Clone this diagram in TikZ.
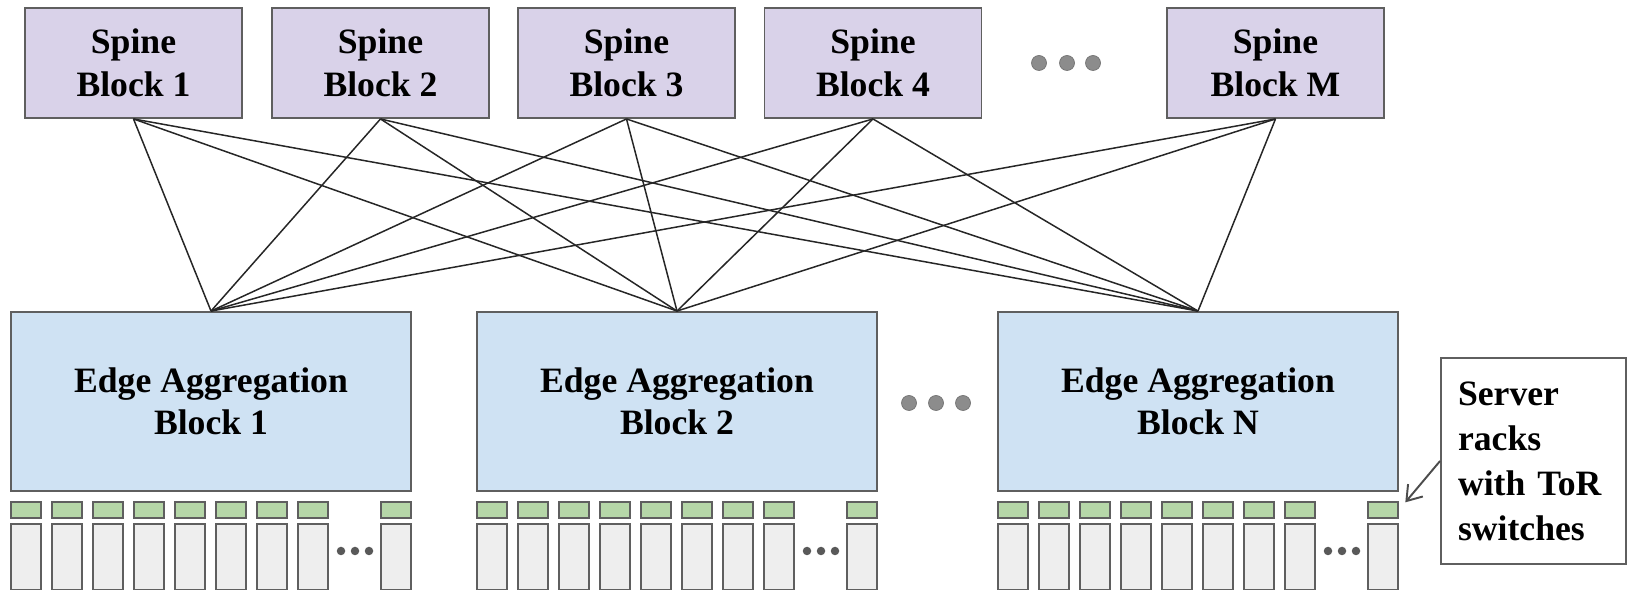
\documentclass[tikz,border=0pt]{standalone}
\usepackage{fontspec}
\setmainfont{Liberation Serif}
\usetikzlibrary{arrows.meta, positioning}
\definecolor{spinefill}{HTML}{D9D2E9}
\definecolor{edgefill}{HTML}{CFE2F3}
\definecolor{torfill}{HTML}{B6D7A8}
\definecolor{rackfill}{HTML}{EEEEEE}
\definecolor{boxline}{HTML}{5F5F5F}
\definecolor{dotfill}{HTML}{8C8C8C}
\tikzset{
    spine/.style={rectangle,draw=boxline,fill=spinefill,line width=1.1pt,
        minimum width=4.34cm,minimum height=2.2cm,align=center,
        font=\fontsize{20.3}{24.2}\selectfont\bfseries},
    edgeblock/.style={rectangle,draw=boxline,fill=edgefill,line width=1.1pt,
        minimum width=8cm,minimum height=3.58cm,align=center,
        font=\fontsize{20.3}{24.2}\selectfont\bfseries},
    tor/.style={rectangle,draw=boxline,fill=torfill,line width=1pt,inner sep=0pt,
        minimum width=0.6cm,minimum height=0.32cm},
    rack/.style={rectangle,draw=boxline,fill=rackfill,line width=1pt,inner sep=0pt,
        minimum width=0.6cm,minimum height=1.32cm},
    bigdot/.style={circle,draw=gray!90!black,fill=dotfill,inner sep=0pt,minimum size=0.3cm},
    smalldot/.style={circle,fill=black!65,inner sep=0pt,minimum size=0.17cm},
    note/.style={rectangle,draw=boxline,line width=1.1pt,align=left,
        minimum width=3.7cm,minimum height=4.12cm,text width=3.02cm,inner xsep=0.34cm,
        font=\fontsize{20.3}{25.6}\selectfont\bfseries},
    link/.style={draw=black!85,line width=0.85pt},
    pointer/.style={draw=black!70,line width=1.1pt,-{Straight Barb[length=8pt,width=11pt]},
        shorten >=0.2cm}}

\begin{document}
\begin{tikzpicture}
[x=0.02cm,y=-0.02cm]
\useasboundingbox (0,0) rectangle (1630,590);

% spine layer
\node[spine] (s1) at (133.5,63) {Spine\\Block 1};
\node[spine] (s2) at (380.5,63) {Spine\\Block 2};
\node[spine] (s3) at (626.5,63) {Spine\\Block 3};
\node[spine] (s4) at (873,63) {Spine\\Block 4};
\node[spine] (sM) at (1275.5,63) {Spine\\Block M};
\node[bigdot] (sd1) at (1039,63) {};
\node[bigdot] (sd2) at (1067,63) {};
\node[bigdot] (sd3) at (1093,63) {};

% edge aggregation layer
\node[edgeblock] (e1) at (211,401.5) {Edge Aggregation\\Block 1};
\node[edgeblock] (e2) at (677,401.5) {Edge Aggregation\\Block 2};
\node[edgeblock] (eN) at (1198,401.5) {Edge Aggregation\\Block N};
\node[bigdot] (ed1) at (909,403) {};
\node[bigdot] (ed2) at (936,403) {};
\node[bigdot] (ed3) at (963,403) {};

% full mesh between the two layers
\foreach \s in {s1,s2,s3,s4,sM}
  \foreach \e in {e1,e2,eN}
    \draw[link] (\s.south) -- (\e.north);

% racks with ToR switches
\foreach \e/\L in {1/11,2/477,N/998}{
  \foreach \i in {0,...,7}{
    \node[tor] (tor\e-\i) at ({\L+15+41*\i},510) {};
    \node[rack] (rack\e-\i) at ({\L+15+41*\i},557) {};
  }
  \node[tor] (tor\e-last) at ({\L+385},510) {};
  \node[rack] (rack\e-last) at ({\L+385},557) {};
  \node[smalldot] (rd\e-1) at ({\L+330},551) {};
  \node[smalldot] (rd\e-2) at ({\L+344},551) {};
  \node[smalldot] (rd\e-3) at ({\L+358},551) {};
}

% label
\node[note] (label) at (1533.5,461) {Server\\racks\\with ToR\\switches};
\draw[pointer] (label.west) -- (torN-last.east);
\end{tikzpicture}
\end{document}
